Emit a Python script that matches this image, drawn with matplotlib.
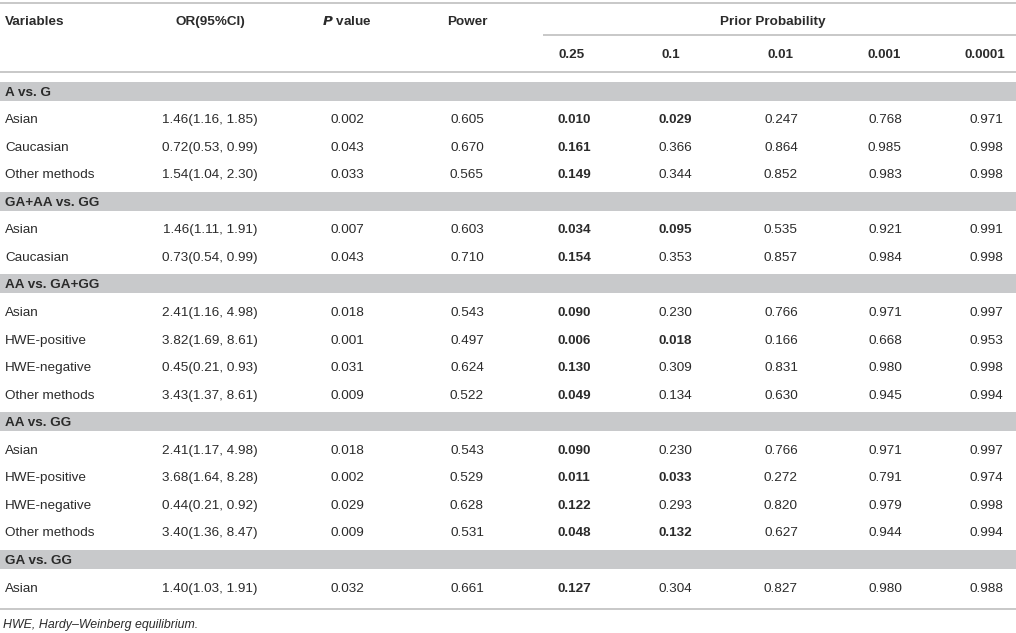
import matplotlib.pyplot as plt

## table content
groups = ['A vs. G', 'GA+AA vs. GG', 'AA vs. GA+GG', 'AA vs. GG', 'GA vs. GG']

variables = [
    ['Asian', 'Caucasian', 'Other methods'],
    ['Asian', 'Caucasian'],
    ['Asian', 'HWE-positive', 'HWE-negative', 'Other methods'],
    ['Asian', 'HWE-positive', 'HWE-negative', 'Other methods'],
    ['Asian'],
]

or_ci = [
    ['1.46(1.16, 1.85)', '0.72(0.53, 0.99)', '1.54(1.04, 2.30)'],
    ['1.46(1.11, 1.91)', '0.73(0.54, 0.99)'],
    ['2.41(1.16, 4.98)', '3.82(1.69, 8.61)', '0.45(0.21, 0.93)', '3.43(1.37, 8.61)'],
    ['2.41(1.17, 4.98)', '3.68(1.64, 8.28)', '0.44(0.21, 0.92)', '3.40(1.36, 8.47)'],
    ['1.40(1.03, 1.91)'],
]

p_value = [
    ['0.002', '0.043', '0.033'],
    ['0.007', '0.043'],
    ['0.018', '0.001', '0.031', '0.009'],
    ['0.018', '0.002', '0.029', '0.009'],
    ['0.032'],
]

power = [
    ['0.605', '0.670', '0.565'],
    ['0.603', '0.710'],
    ['0.543', '0.497', '0.624', '0.522'],
    ['0.543', '0.529', '0.628', '0.531'],
    ['0.661'],
]

prior_levels = ['0.25', '0.1', '0.01', '0.001', '0.0001']

fprp = [
    [['0.010', '0.029', '0.247', '0.768', '0.971'],
     ['0.161', '0.366', '0.864', '0.985', '0.998'],
     ['0.149', '0.344', '0.852', '0.983', '0.998']],
    [['0.034', '0.095', '0.535', '0.921', '0.991'],
     ['0.154', '0.353', '0.857', '0.984', '0.998']],
    [['0.090', '0.230', '0.766', '0.971', '0.997'],
     ['0.006', '0.018', '0.166', '0.668', '0.953'],
     ['0.130', '0.309', '0.831', '0.980', '0.998'],
     ['0.049', '0.134', '0.630', '0.945', '0.994']],
    [['0.090', '0.230', '0.766', '0.971', '0.997'],
     ['0.011', '0.033', '0.272', '0.791', '0.974'],
     ['0.122', '0.293', '0.820', '0.979', '0.998'],
     ['0.048', '0.132', '0.627', '0.944', '0.994']],
    [['0.127', '0.304', '0.827', '0.980', '0.988']],
]

# which fprp cells are bold in the original
fprp_bold = [
    [[1, 1, 0, 0, 0], [1, 0, 0, 0, 0], [1, 0, 0, 0, 0]],
    [[1, 1, 0, 0, 0], [1, 0, 0, 0, 0]],
    [[1, 0, 0, 0, 0], [1, 1, 0, 0, 0], [1, 0, 0, 0, 0], [1, 0, 0, 0, 0]],
    [[1, 0, 0, 0, 0], [1, 1, 0, 0, 0], [1, 0, 0, 0, 0], [1, 1, 0, 0, 0]],
    [[1, 0, 0, 0, 0]],
]

footnote = 'HWE, Hardy\u2013Weinberg equilibrium.'

## layout (pixels)
W, H = 1016, 633
txt = '#2b2b2b'
line_c = '#c4c4c4'
band_c = '#c8c9cb'
fs = 9.7
x_var = 5
x_or = 210
x_p = 347
x_pow = 467
x_prior = [574, 675, 781, 885, 986]
x_prior_hdr = [572, 671, 780, 884, 985]
base = 4.6   # baseline offset below the row centre


def cell(x, y, s, ha='center', bold=False, **kw):
    ax.text(x, y + base, s, ha=ha, va='baseline', fontsize=kw.pop('size', fs),
            fontweight='bold' if bold else 'normal', color=txt, **kw)


plt.rcParams['font.family'] = ['Liberation Sans', 'DejaVu Sans']

fig = plt.figure(figsize=(W / 100, H / 100), dpi=100, facecolor='w')
ax = fig.add_axes([0, 0, 1, 1])
ax.set_xlim(0, W)
ax.set_ylim(H, 0)
ax.axis('off')

## header
ax.hlines(2.5, 0, W, color=line_c, lw=1.3)
cell(x_var, 20, 'Variables', ha='left', bold=True)
cell(x_or, 20, 'OR(95%CI)', bold=True)
cell(x_p, 20, r'$\bfit{P}$' + ' value', bold=True)
cell(x_pow, 20, 'Power', bold=True)
cell(773, 20, 'Prior Probability', bold=True)
ax.hlines(35, 543, W, color=line_c, lw=1.3)
for xx, lv in zip(x_prior_hdr, prior_levels):
    cell(xx, 53, lv, bold=True)
ax.hlines(72, 0, W, color=line_c, lw=1.3)

## body
y0 = 91
dy = 27.55
row = 0
for g in range(len(groups)):
    yc = y0 + row * dy
    ax.fill_between([0, W], yc - 9.5, yc + 9.5, color=band_c, lw=0)
    cell(x_var, yc, groups[g], ha='left', bold=True)
    row += 1
    for k in range(len(variables[g])):
        yc = y0 + row * dy
        cell(x_var, yc, variables[g][k], ha='left')
        cell(x_or, yc, or_ci[g][k])
        cell(x_p, yc, p_value[g][k])
        cell(x_pow, yc, power[g][k])
        for j in range(len(prior_levels)):
            cell(x_prior[j], yc, fprp[g][k][j], bold=bool(fprp_bold[g][k][j]))
        row += 1

ax.hlines(609, 0, W, color=line_c, lw=1.3)
cell(3, 623.5, footnote, ha='left', size=8.9, style='italic')

plt.savefig('out.png', dpi=100, facecolor='w')
